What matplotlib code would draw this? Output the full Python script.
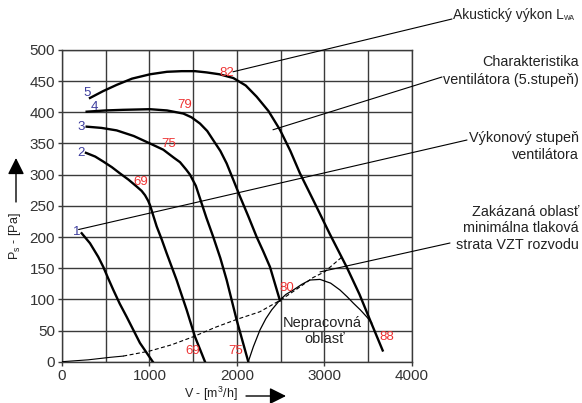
import numpy as np
import matplotlib
matplotlib.use('Agg')
import matplotlib.pyplot as plt

plt.rcParams['font.family'] = ['Liberation Sans', 'DejaVu Sans']
plt.rcParams['mathtext.default'] = 'regular'

# fan curves for the 5 speed steps
c1_x = [225, 320, 415, 472, 530, 587, 660, 739, 815, 891, 1037]
c1_y = [206, 190, 168, 152, 133, 115, 93, 72, 51, 30, 0]
c2_x = [274, 380, 472, 570, 663, 760, 853, 910, 949, 985, 1006, 1082, 1140, 1196, 1310, 1425, 1520, 1634]
c2_y = [335, 329, 321, 312, 302, 292, 281, 274, 267, 258, 251, 217, 196, 174, 131, 83, 40, 0]
c3_x = [282, 450, 625, 820, 1006, 1158, 1280, 1349, 1420, 1463, 1530, 1577, 1650, 1729, 1810, 1882, 1996, 2129]
c3_y = [377, 375, 371, 362, 350, 340, 327, 320, 308, 300, 282, 262, 231, 200, 166, 131, 67, 0]
c4_x = [282, 500, 700, 1006, 1200, 1387, 1480, 1577, 1660, 1730, 1810, 1882, 1960, 2034, 2130, 2225, 2300, 2377, 2491]
c4_y = [401, 403, 404, 405, 403, 398, 392, 382, 370, 355, 338, 318, 291, 265, 233, 200, 177, 152, 98]
c5_x = [320, 470, 625, 800, 1006, 1200, 1368, 1520, 1653, 1800, 1958, 2100, 2225, 2360, 2491, 2610, 2720, 2872, 3060, 3253, 3400, 3520, 3665]
c5_y = [423, 434, 444, 454, 461, 465, 466, 466, 464, 461, 455, 443, 425, 402, 372, 338, 302, 259, 205, 152, 108, 67, 18]

# minimal duct pressure loss (dashed)
vzt_x = [0, 300, 550, 700, 1000, 1250, 1500, 1750, 2000, 2260, 2500, 2700, 2870, 3000, 3200]
vzt_y = [0, 3, 7, 9, 17, 27, 40, 55, 68, 80, 99, 118, 135, 144, 168]

# boundary of the non-working region
nep_x = [2129, 2187, 2263, 2330, 2396, 2491, 2560, 2644, 2740, 2834, 2949, 3070, 3177, 3260, 3329, 3410, 3482, 3540]
nep_y = [0, 24, 51, 69, 83, 99, 108, 115, 124, 131, 132, 126, 115, 104, 94, 83, 72, 62]

step_labels = ['1', '2', '3', '4', '5']
step_pos = [(171, 208), (217, 335), (217, 377), (369, 409), (282, 431)]
lwa_labels = ['82', '79', '75', '69', '80', '69', '75', '88']
lwa_pos = [(1882, 463), (1398, 411), (1223, 349), (903, 288),
           (2568, 119), (1494, 17), (1989, 17), (3711, 39)]

fig = plt.figure(figsize=(5.82, 4.03), dpi=100)
ax = fig.add_axes([0.1065, 0.1025, 0.6014, 0.7735])

gc = '#3a3a3a'
ax.set_xlim(0, 4000)
ax.set_ylim(0, 500)
ax.set_xticks([0, 1000, 2000, 3000, 4000])
ax.set_xticks(np.arange(0, 4001, 500), minor=True)
ax.set_yticks(np.arange(0, 501, 50))
ax.grid(True, which='both', color=gc, lw=1.0)
ax.tick_params(which='both', direction='out', length=3, color=gc, width=1.0,
               labelsize=11, labelcolor='#333333', pad=2)
ax.tick_params(which='minor', length=0)
for s in ax.spines.values():
    s.set_color(gc)
    s.set_linewidth(1.0)

for cx, cy in [(c1_x, c1_y), (c2_x, c2_y), (c3_x, c3_y), (c4_x, c4_y), (c5_x, c5_y)]:
    ax.plot(cx, cy, color='black', lw=1.7, zorder=3, solid_joinstyle='round')

ax.plot(vzt_x[:4], vzt_y[:4], color='black', lw=0.8, zorder=3)
ax.plot(vzt_x[3:], vzt_y[3:], color='black', lw=0.8, ls=(0, (3.6, 2.2)), zorder=3)
ax.plot(nep_x, nep_y, color='black', lw=0.9, zorder=3)

for t, (px, py) in zip(step_labels, step_pos):
    ax.text(px, py, t, color='#3d3d9e', fontsize=9.5, ha='center', va='center', zorder=4)
for t, (px, py) in zip(lwa_labels, lwa_pos):
    ax.text(px, py, t, color='#ee3333', fontsize=9.5, ha='center', va='center', zorder=4)

ax.text(2979, 62, 'Nepracovná', fontsize=10.5, ha='center', va='center', color='#222222')
ax.text(2998, 36, 'oblasť', fontsize=10.5, ha='center', va='center', color='#222222')

# callouts
tc = '#222222'
ax.annotate('', xy=(1954, 465), xytext=(452, 384), textcoords='figure pixels',
            arrowprops=dict(arrowstyle='-', lw=0.8, color='black', shrinkA=0, shrinkB=0))
fig.text(453 / 582, 388 / 403, 'Akustický výkon L', fontsize=10, ha='left', va='center', color=tc)
fig.text(564 / 582, 384 / 403, 'WA', fontsize=5, ha='left', va='center', color=tc)

ax.annotate('', xy=(2411, 372), xytext=(442, 326), textcoords='figure pixels',
            arrowprops=dict(arrowstyle='-', lw=0.8, color='black', shrinkA=0, shrinkB=0))
fig.text(579 / 582, 341 / 403, 'Charakteristika', fontsize=10.4, ha='right', va='center', color=tc)
fig.text(579 / 582, 323 / 403, 'ventilátora (5.stupeň)', fontsize=10.4, ha='right', va='center', color=tc)

ax.annotate('', xy=(190, 212), xytext=(467, 263), textcoords='figure pixels',
            arrowprops=dict(arrowstyle='-', lw=0.8, color='black', shrinkA=0, shrinkB=0))
fig.text(579 / 582, 265 / 403, 'Výkonový stupeň', fontsize=10.4, ha='right', va='center', color=tc)
fig.text(579 / 582, 248 / 403, 'ventilátora', fontsize=10.4, ha='right', va='center', color=tc)

ax.annotate('', xy=(2949, 144), xytext=(450, 160), textcoords='figure pixels',
            arrowprops=dict(arrowstyle='-', lw=0.8, color='black', shrinkA=0, shrinkB=0))
fig.text(579 / 582, 191 / 403, 'Zakázaná oblasť', fontsize=10.4, ha='right', va='center', color=tc)
fig.text(579 / 582, 175 / 403, 'minimálna tlaková', fontsize=10.4, ha='right', va='center', color=tc)
fig.text(579 / 582, 158 / 403, 'strata VZT rozvodu', fontsize=10.4, ha='right', va='center', color=tc)

# axis labels with arrows
fig.text(15 / 582, 167 / 403, 'P$_s$ - [Pa]', rotation=90, fontsize=9, ha='center', va='center', color=tc)
fig.text(211 / 582, 9 / 403, 'V - [m$^3$/h]', fontsize=9, ha='center', va='center', color=tc)
ax.annotate('', xy=(16, 245), xytext=(16, 201), xycoords='figure pixels', textcoords='figure pixels',
            arrowprops=dict(arrowstyle='-|>', mutation_scale=25, lw=1.0, color='black', shrinkA=0, shrinkB=0))
ax.annotate('', xy=(286, 7), xytext=(246, 7), xycoords='figure pixels', textcoords='figure pixels',
            arrowprops=dict(arrowstyle='-|>', mutation_scale=25, lw=1.0, color='black', shrinkA=0, shrinkB=0))

fig.savefig('out.png', dpi=100, facecolor='white')
